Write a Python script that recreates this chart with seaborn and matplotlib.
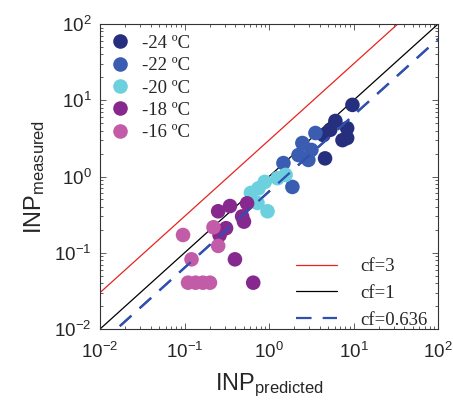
import numpy as np
import pandas as pd
import matplotlib
matplotlib.use("Agg")
import matplotlib.pyplot as plt
from matplotlib.lines import Line2D
from matplotlib.ticker import LogLocator, LogFormatterMathtext, NullFormatter
import seaborn as sns

# Temperature groups and their colours
temps = ["-24 ºC", "-22 ºC", "-20 ºC", "-18 ºC", "-16 ºC"]
colors = ["#262f7e", "#3a5db1", "#6dd0de", "#87288f", "#c25ca9"]

# Predicted vs. measured INP concentrations for each temperature
pred_m24 = [9.7, 6.1, 8.4, 7.4, 5.3, 4.6, 4.4, 8.4]
meas_m24 = [8.7, 5.35, 4.3, 3.0, 4.1, 1.73, 3.5, 3.2]

pred_m22 = [1.48, 1.89, 2.23, 2.48, 2.92, 3.17, 3.54]
meas_m22 = [1.50, 0.73, 1.91, 2.75, 1.65, 2.23, 3.72]

pred_m20 = [0.61, 0.73, 0.89, 0.96, 1.26, 1.57, 0.75]
meas_m20 = [0.61, 0.45, 0.85, 0.35, 0.95, 1.05, 0.70]

pred_m18 = [0.25, 0.345, 0.31, 0.26, 0.395, 0.65, 0.505, 0.48, 0.55]
meas_m18 = [0.35, 0.41, 0.21, 0.17, 0.082, 0.0405, 0.256, 0.30, 0.445]

pred_m16 = [0.096, 0.22, 0.25, 0.121, 0.11, 0.135, 0.165, 0.2]
meas_m16 = [0.171, 0.216, 0.123, 0.082, 0.0405, 0.0405, 0.0405, 0.0405]

# Correction factors for the reference lines
cf_values = [3, 1, 0.636]
cf_labels = ["cf=3", "cf=1", "cf=0.636"]

groups = [(pred_m24, meas_m24), (pred_m22, meas_m22), (pred_m20, meas_m20),
          (pred_m18, meas_m18), (pred_m16, meas_m16)]
rows = []
for t, (px, my) in zip(temps, groups):
    for a, b in zip(px, my):
        rows.append({"pred": a, "meas": b, "T": t})
df = pd.DataFrame(rows)

sns.set_style("white")
plt.rcParams["font.family"] = ["Liberation Sans", "DejaVu Sans"]
plt.rcParams["mathtext.fontset"] = "custom"
plt.rcParams["mathtext.rm"] = "Liberation Sans"
plt.rcParams["mathtext.it"] = "Liberation Sans:italic"
plt.rcParams["mathtext.bf"] = "Liberation Sans:bold"

fig = plt.figure(figsize=(4.53, 4.03), dpi=100)
ax = fig.add_axes([0.2208, 0.1836, 0.7462, 0.7568])

# Reference lines y = cf * x
xx = np.logspace(-2, 2, 200)
line_styles = [dict(color="#e8231f", lw=0.9, ls="-"),
               dict(color="black", lw=0.9, ls="-"),
               dict(color="#3050b0", lw=1.6, ls=(0, (7, 5)))]
for cf, st in zip(cf_values, line_styles):
    ax.plot(xx, cf * xx, zorder=1, **st)

# Draw groups in reverse so the coldest points sit on top
palette = dict(zip(temps, colors))
sns.scatterplot(data=df, x="pred", y="meas", hue="T", palette=palette,
                hue_order=temps[::-1], s=110, linewidth=0, alpha=1,
                legend=False, ax=ax, zorder=3)
# Replot dashed line above points
ax.plot(xx, cf_values[2] * xx, zorder=4, **line_styles[2])

ax.set_xscale("log")
ax.set_yscale("log")
ax.set_xlim(1e-2, 1e2)
ax.set_ylim(1e-2, 1e2)

for axis in (ax.xaxis, ax.yaxis):
    axis.set_major_locator(LogLocator(base=10, numticks=10))
    axis.set_minor_locator(LogLocator(base=10, subs=np.arange(2, 10), numticks=10))
    axis.set_major_formatter(LogFormatterMathtext())
    axis.set_minor_formatter(NullFormatter())

ax.tick_params(which="both", direction="in", top=True, right=True,
               bottom=True, left=True, color="#444444", width=0.6)
ax.tick_params(which="major", length=4, labelsize=13.5)
ax.tick_params(axis="x", which="major", pad=9)
ax.tick_params(axis="y", which="major", pad=6)
ax.tick_params(which="minor", length=2)
for sp in ax.spines.values():
    sp.set_linewidth(0.8)
    sp.set_color("#333333")

ax.set_xlabel(r"INP$_{\mathrm{predicted}}$", fontsize=17, labelpad=7)
ax.set_ylabel(r"INP$_{\mathrm{measured}}$", fontsize=17, labelpad=5)

# Temperature legend
serif = ["Liberation Serif", "DejaVu Serif"]
t_handles = [Line2D([], [], marker="o", ls="none", markersize=10.5,
                    markerfacecolor=c, markeredgewidth=0) for c in colors]
leg1 = ax.legend(t_handles, temps, loc="upper left", bbox_to_anchor=(-0.045, 1.02),
                 frameon=False, handletextpad=0.15, labelspacing=0.28,
                 prop={"family": serif, "size": 13.5})
ax.add_artist(leg1)

# Correction-factor legend
l_handles = [Line2D([], [], **st) for st in line_styles]
ax.legend(l_handles, cf_labels, loc="lower right", bbox_to_anchor=(1.02, -0.055),
          frameon=False, handlelength=2.2, handletextpad=1.25, labelspacing=0.52,
          prop={"family": serif, "size": 13.5})

fig.savefig("out.png", dpi=100)
